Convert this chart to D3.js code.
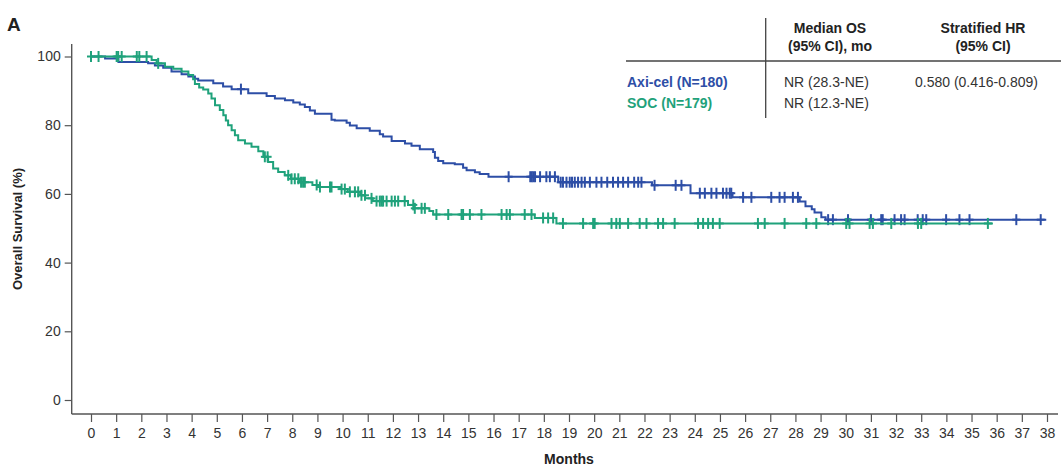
<!DOCTYPE html>
<html>
<head>
<meta charset="utf-8">
<script src="https://cdn.jsdelivr.net/npm/d3@7"></script>
<style>
  html, body { margin: 0; padding: 0; background: #fff; }
  svg { display: block; font-family: "Liberation Sans", Arial, sans-serif; }
</style>
</head>
<body>
<svg id="chart" width="1061" height="466"></svg>
<script>
// ---- Data ----
const xTicks = d3.range(0, 39);
const yTicks = [0, 20, 40, 60, 80, 100];

// Axi-cel step function: [month, survival %]
const axiSteps = [[0,100],[0.56,99.4],[1.09,98.4],[2.27,98.0],[2.54,97.4],[2.87,96.7],[3.2,95.6],[3.6,94.8],[3.87,94.2],[4.13,93.5],[4.26,93.0],[4.86,92.2],[5.25,91.3],[5.59,90.5],[6.25,89.3],[6.98,88.5],[7.31,87.8],[7.71,87.3],[8.04,86.6],[8.3,86.0],[8.5,85.3],[8.7,84.3],[8.9,83.3],[9.56,81.6],[9.69,81.4],[10.16,80.7],[10.29,79.9],[10.56,79.1],[11.08,78.4],[11.48,77.4],[11.61,76.7],[11.95,75.4],[12.48,74.7],[12.74,74.0],[13.07,73.0],[13.6,72.2],[13.67,70.5],[13.8,69.6],[14.0,68.9],[14.46,68.6],[14.79,67.6],[14.93,66.9],[15.26,66.3],[15.45,65.8],[15.8,65.0],[18.57,63.4],[22.3,62.5],[23.83,60.2],[25.5,59.0],[28.17,57.8],[28.4,56.4],[28.65,55.5],[28.76,54.6],[29.03,53.2],[29.2,52.5]];
const axiEnd = 37.97;
const axiCensor = [5.96,16.6,17.46,17.52,17.58,17.65,17.85,18.1,18.24,18.44,18.67,18.76,18.9,19.03,19.12,19.23,19.36,19.5,19.63,19.83,20.09,20.29,20.52,20.75,20.95,21.15,21.35,21.59,21.75,21.88,22.4,23.24,23.47,24.2,24.4,24.66,24.86,25.12,25.26,25.39,25.45,25.92,26.25,27.04,27.37,27.57,27.9,28.1,29.3,29.49,30.09,31.0,31.41,31.47,31.94,32.2,32.34,32.86,33.06,33.2,33.99,34.52,34.92,36.78,37.75];

// SOC step function
const socSteps = [[0,100],[2.41,99.0],[2.61,98.0],[2.94,97.0],[3.27,96.4],[3.6,95.6],[3.87,94.6],[4.06,93.4],[4.13,92.0],[4.3,91.0],[4.46,90.4],[4.66,89.2],[4.79,87.8],[4.93,85.8],[5.12,84.4],[5.26,82.9],[5.36,81.4],[5.45,80.0],[5.59,78.5],[5.72,77.1],[5.85,75.6],[6.12,74.7],[6.38,73.7],[6.65,72.4],[6.85,70.8],[7.04,69.3],[7.24,67.4],[7.44,66.4],[7.7,65.4],[7.95,64.4],[8.3,63.4],[8.8,62.6],[9.1,62.0],[9.9,61.4],[10.2,60.6],[10.7,59.6],[10.9,58.7],[11.2,57.9],[12.6,56.8],[12.85,55.8],[13.45,55.0],[13.6,54.0],[17.64,53.0],[18.5,51.4]];
const socEnd = 35.85;
const socCensor = [0.0,0.3,1.02,1.08,1.22,1.82,1.92,2.21,2.67,6.91,7.02,7.84,7.97,8.1,8.24,8.35,8.43,8.5,8.97,9.1,9.5,9.56,9.96,10.09,10.29,10.49,10.62,10.75,10.89,11.15,11.35,11.48,11.55,11.61,11.75,11.95,12.08,12.21,12.47,12.81,12.87,13.14,13.27,13.73,14.2,14.73,14.79,15.06,15.52,16.32,16.52,16.65,17.24,17.51,17.97,18.17,18.37,18.76,19.56,19.96,20.02,20.69,20.88,21.02,21.35,21.81,22.08,22.54,22.74,23.2,24.13,24.33,24.53,24.72,24.99,26.51,26.78,27.57,28.43,28.83,30.02,30.15,30.95,31.08,31.81,32.87,33.0,35.65];

const tableHeader = [["Median OS", "(95% CI), mo"], ["Stratified HR", "(95% CI)"]];
const tableRows = [
  ["Axi-cel (N=180)", "NR (28.3-NE)", "0.580 (0.416-0.809)"],
  ["SOC (N=179)", "NR (12.3-NE)", ""]
];

// ---- Styles ----
const BLUE = "#2d4ea6";
const GREEN = "#1fa27b";
const TEXT = "#333";

const svg = d3.select("#chart");
const x = d3.scaleLinear().domain([0, 38]).range([91, 1047]);
const y = d3.scaleLinear().domain([0, 100]).range([400, 56.5]);
const axisX0 = 71.7, axisY0 = 414;

// Y axis
const gy = svg.append("g").attr("transform", `translate(${axisX0},0)`)
  .call(d3.axisLeft(y).tickValues(yTicks).tickSize(7).tickPadding(4).tickSizeOuter(0));
gy.select(".domain").remove();
gy.selectAll("line").attr("stroke", "#555").attr("stroke-width", 1.2);
gy.selectAll("text").attr("font-size", 14).attr("fill", TEXT)
  .attr("font-family", "'Liberation Sans', Arial, sans-serif");
svg.append("line").attr("x1", axisX0).attr("x2", axisX0).attr("y1", 44).attr("y2", axisY0)
  .attr("stroke", "#555").attr("stroke-width", 1.4);

// X axis
const gx = svg.append("g").attr("transform", `translate(0,${axisY0})`)
  .call(d3.axisBottom(x).tickValues(xTicks).tickSize(8).tickPadding(6).tickSizeOuter(0));
gx.select(".domain").remove();
gx.selectAll("line").attr("stroke", "#555").attr("stroke-width", 1.2);
gx.selectAll("text").attr("font-size", 14).attr("fill", TEXT)
  .attr("font-family", "'Liberation Sans', Arial, sans-serif");
svg.append("line").attr("x1", axisX0).attr("x2", 1058).attr("y1", axisY0).attr("y2", axisY0)
  .attr("stroke", "#555").attr("stroke-width", 1.4);

// Axis titles
svg.append("text").attr("x", 569).attr("y", 464).attr("text-anchor", "middle")
  .attr("font-size", 14).attr("font-weight", "bold").attr("fill", "#222").text("Months");
svg.append("text").attr("transform", "translate(22,229) rotate(-90)").attr("text-anchor", "middle")
  .attr("font-size", 13).attr("font-weight", "bold").attr("fill", "#222").text("Overall Survival (%)");
svg.append("text").attr("x", 7).attr("y", 31).attr("font-size", 19).attr("font-weight", "bold")
  .attr("fill", "#222").text("A");

// KM curves
function stepPoints(steps, end) {
  const pts = steps.slice();
  pts.push([end, steps[steps.length - 1][1]]);
  return pts;
}
const line = d3.line().x(d => x(d[0])).y(d => y(d[1])).curve(d3.curveStepAfter);
const bis = d3.bisector(d => d[0]).right;
function survAt(steps, t) { return steps[Math.max(0, bis(steps, t) - 1)][1]; }

function drawCurve(steps, end, censor, color) {
  svg.append("path").datum(stepPoints(steps, end)).attr("d", line)
    .attr("fill", "none").attr("stroke", color).attr("stroke-width", 2);
  const g = svg.append("g").attr("stroke", color).attr("stroke-width", 2);
  censor.forEach(t => {
    const cx = x(t), cy = y(survAt(steps, t));
    g.append("line").attr("x1", cx).attr("x2", cx).attr("y1", cy - 5.5).attr("y2", cy + 5.5);
    g.append("line").attr("x1", cx - 4).attr("x2", cx + 4).attr("y1", cy).attr("y2", cy);
  });
}
drawCurve(axiSteps, axiEnd, axiCensor, BLUE);
drawCurve(socSteps, socEnd, socCensor, GREEN);

// Table
const tg = svg.append("g").attr("font-size", 14).attr("fill", TEXT);
svg.append("line").attr("x1", 765.7).attr("x2", 765.7).attr("y1", 18).attr("y2", 118)
  .attr("stroke", "#444").attr("stroke-width", 1.3);
svg.append("line").attr("x1", 626).attr("x2", 1061).attr("y1", 61).attr("y2", 61)
  .attr("stroke", "#444").attr("stroke-width", 1.3);
const headX = [830, 983];
tableHeader.forEach((h, i) => {
  h.forEach((s, j) => {
    tg.append("text").attr("x", headX[i]).attr("y", 33 + j * 18).attr("text-anchor", "middle")
      .attr("font-weight", "bold").attr("fill", "#222").text(s);
  });
});
const colX = [627, 784, 915];
const rowColors = [BLUE, GREEN];
tableRows.forEach((r, i) => {
  r.forEach((s, j) => {
    if (!s) return;
    tg.append("text").attr("x", colX[j]).attr("y", 87 + i * 21)
      .attr("font-weight", j === 0 ? "bold" : "normal")
      .attr("fill", j === 0 ? rowColors[i] : TEXT).text(s);
  });
});
</script>
</body>
</html>
